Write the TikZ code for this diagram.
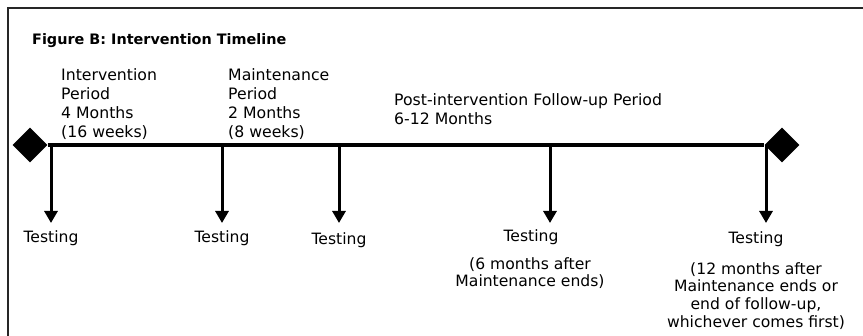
\documentclass[tikz,border=0pt]{standalone}
\usepackage{fontspec}
\setmainfont{DejaVu Sans}
\usetikzlibrary{arrows.meta,shapes.geometric}
\begin{document}
\begin{tikzpicture}[x=1pt,y=-1pt,
  titletxt/.style={inner sep=0pt, anchor=base west, font=\bfseries\fontsize{14.4}{17}\selectfont},
  uptxt/.style={inner sep=0pt, anchor=north west, align=left, font=\fontsize{15.7}{19}\selectfont},
  testtxt/.style={inner sep=0pt, anchor=base, font=\fontsize{15.6}{18}\selectfont},
  notetxt/.style={inner sep=0pt, anchor=north, align=center, font=\fontsize{15.6}{17.9}\selectfont},
  marker/.style={diamond, fill=black, inner sep=0pt, minimum size=35pt},
  tick/.style={line width=3pt, -{Triangle[width=13pt,length=12pt]}},
  frame/.style={line width=2pt, black!85},
]
\useasboundingbox (0,0) rectangle (863,336);
% frame (left and top edges visible)
\coordinate (fbl) at (8,345);
\coordinate (ftl) at (8,8);
\coordinate (ftr) at (875,8);
\draw[frame] (fbl) -- (ftl) -- (ftr);

\node[titletxt] (title) at (32,45) {Figure B: Intervention Timeline};

\node[uptxt] (ip) at (61,68) {Intervention\\Period\\4 Months\\(16 weeks)};
\node[uptxt] (mp) at (228,68) {Maintenance\\Period\\2 Months\\(8 weeks)};
\node[uptxt] (fp) at (394,93) {Post-intervention Follow-up Period\\6-12 Months};

% timeline
\node[marker] (ld) at (30,145) {};
\node[marker] (rd) at (782,145) {};
\draw[line width=4.5pt] (ld.east) -- (rd.west);

% test points
\coordinate (a1) at (51,145);  \coordinate (b1) at (51,223);
\coordinate (a2) at (222,145); \coordinate (b2) at (222,223);
\coordinate (a3) at (339,145); \coordinate (b3) at (339,223);
\coordinate (a4) at (550,145); \coordinate (b4) at (550,223);
\coordinate (a5) at (766,145); \coordinate (b5) at (766,223);
\foreach \i in {1,...,5} \draw[tick] (a\i) -- (b\i);

\node[testtxt] (t1) at (51,243) {Testing};
\node[testtxt] (t2) at (222,243) {Testing};
\node[testtxt] (t3) at (339,245) {Testing};
\node[testtxt] (t4) at (531,242) {Testing};
\node[testtxt] (t5) at (756,244) {Testing};

\node[notetxt] (n4) at (530,257) {(6 months after\\Maintenance ends)};
\node[notetxt] (n5) at (756,262) {(12 months after\\Maintenance ends or\\end of follow-up,\\whichever comes first)};
\end{tikzpicture}
\end{document}
